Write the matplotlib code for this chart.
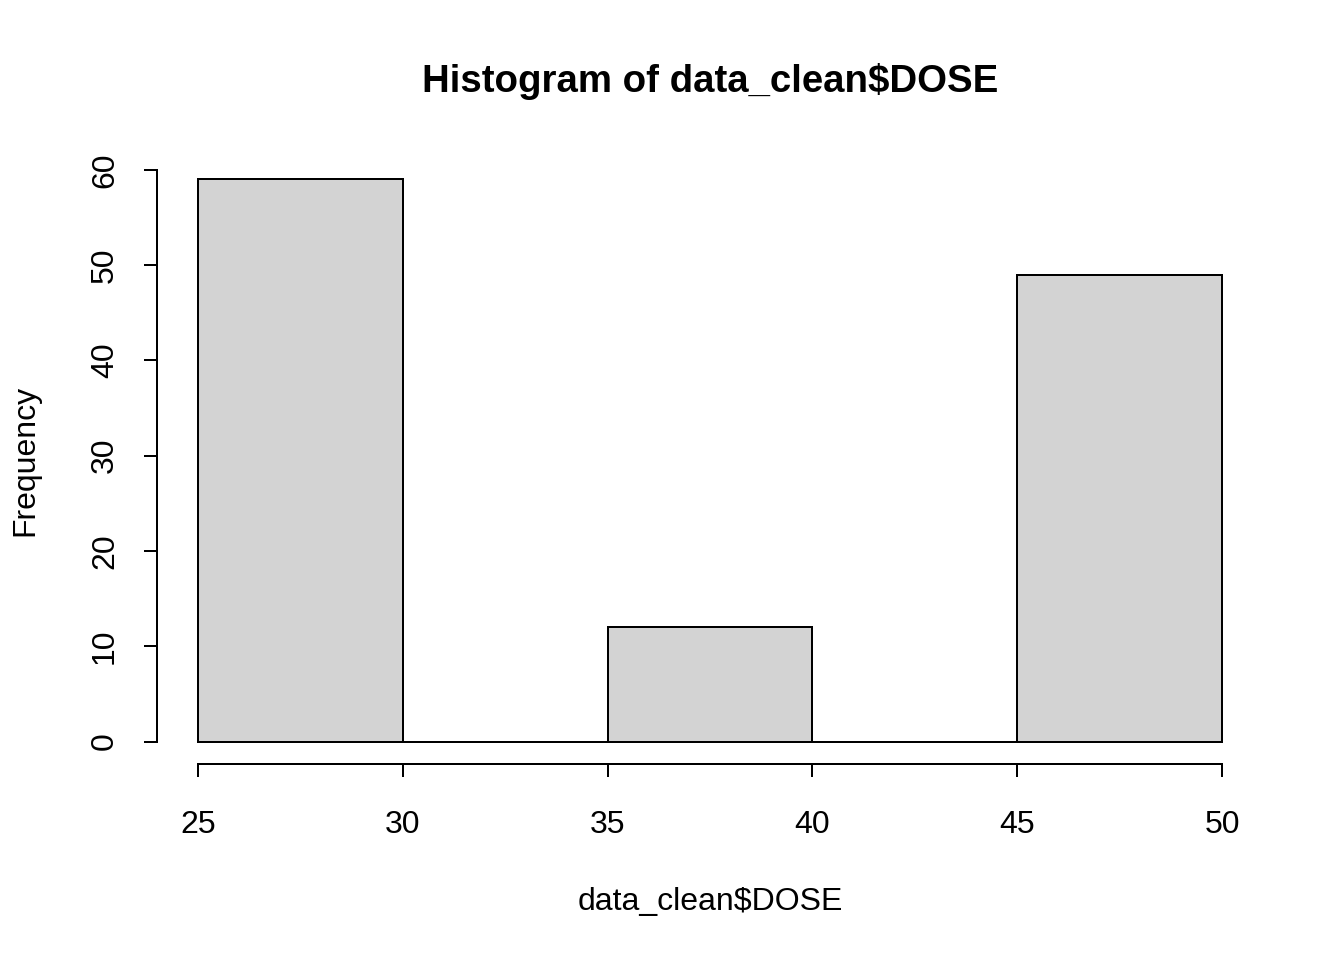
import matplotlib
matplotlib.use("Agg")
import matplotlib.pyplot as plt

# histogram of DOSE, bins of width 5
bin_edges = [25, 30, 35, 40, 45, 50]
counts = [59, 0, 12, 0, 49]
x_ticks = [25, 30, 35, 40, 45, 50]
y_ticks = [0, 10, 20, 30, 40, 50, 60]

plt.rcParams['font.family'] = ['Liberation Sans', 'DejaVu Sans']

fig = plt.figure(figsize=(7, 5), dpi=192)
# plot region in pixels: x 157..1263, y 157..764
ax = fig.add_axes([157 / 1344, 1 - 764 / 960, (1263 - 157) / 1344, (764 - 157) / 960])

lefts = bin_edges[:-1]
widths = [bin_edges[i + 1] - bin_edges[i] for i in range(len(counts))]
ax.bar(lefts, counts, width=widths, align='edge', color='#D3D3D3',
       edgecolor='black', linewidth=0.75)

# R style 4% axis extension
ax.set_xlim(25 - 0.04 * 25, 50 + 0.04 * 25)
ax.set_ylim(-0.04 * 59, 59 * 1.04)

for s in ['top', 'right']:
    ax.spines[s].set_visible(False)
ax.spines['bottom'].set_bounds(25, 50)
ax.spines['left'].set_bounds(0, 60)
for s in ['bottom', 'left']:
    ax.spines[s].set_linewidth(0.75)

ax.set_xticks(x_ticks)
ax.set_yticks(y_ticks)
ax.tick_params(axis='both', length=4.9, width=0.75, labelsize=12)
ax.tick_params(axis='x', pad=12.3)
ax.tick_params(axis='y', pad=9)
for lab in ax.get_yticklabels():
    lab.set_rotation(90)
    lab.set_va('center')

fig.text(710 / 1344, 1 - 81 / 960, "Histogram of data_clean$DOSE", ha='center',
         va='center', fontsize=14.4, fontweight='bold')
fig.text(710 / 1344, 1 - 902 / 960, "data_clean$DOSE", ha='center', va='center', fontsize=12)
fig.text(25 / 1344, 1 - 460 / 960, "Frequency", ha='center', va='center',
         rotation=90, fontsize=12)

fig.savefig("out.png", dpi=192)
